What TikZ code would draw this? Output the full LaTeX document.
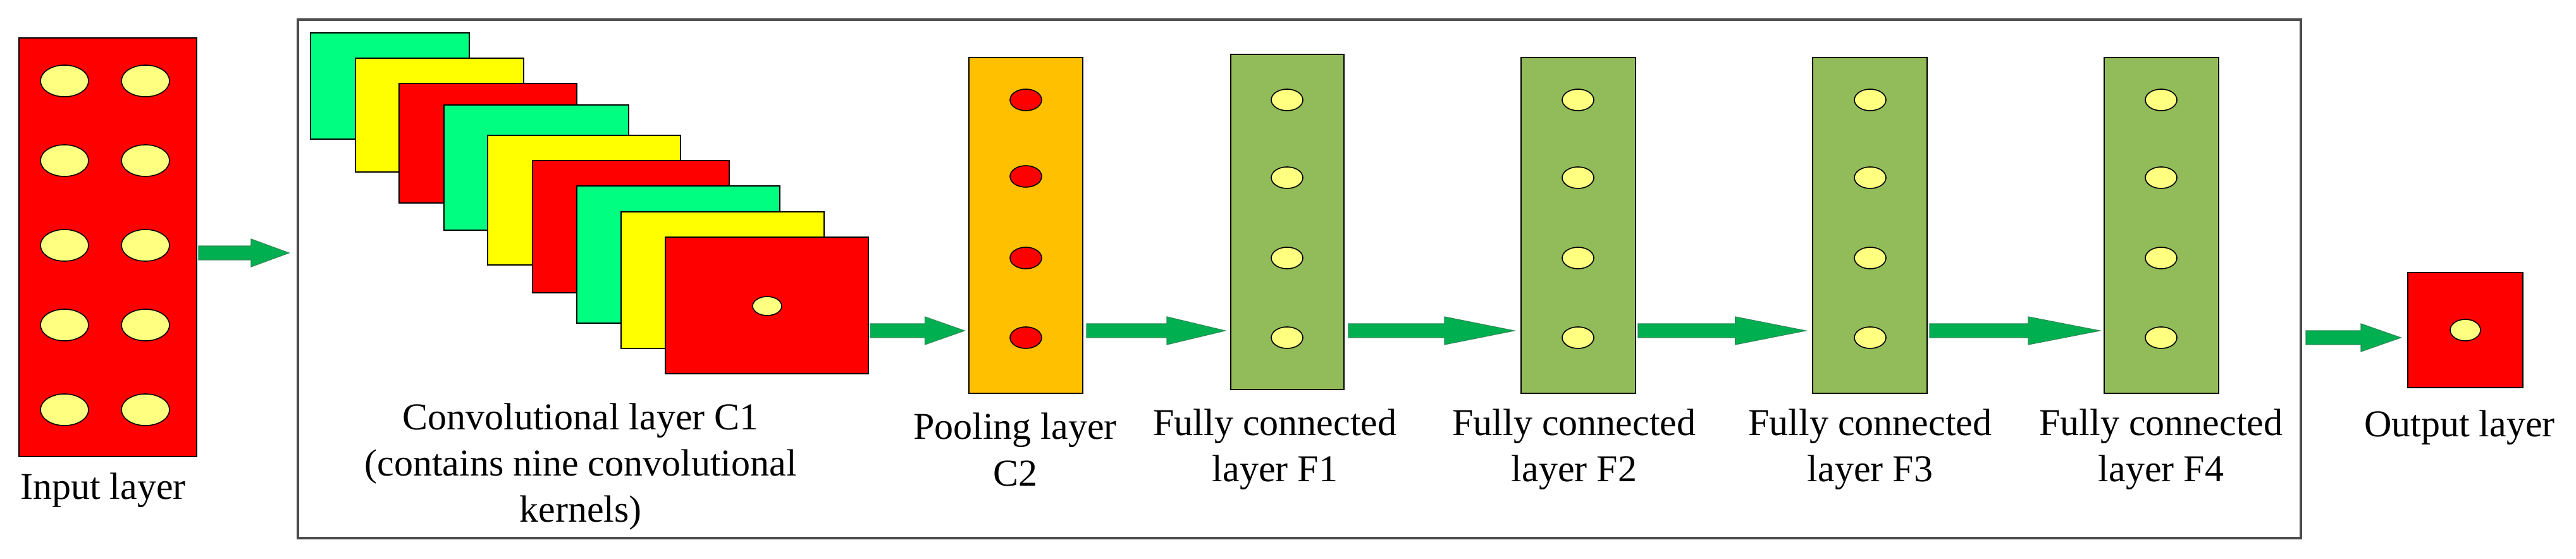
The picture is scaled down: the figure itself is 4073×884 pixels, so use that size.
\documentclass[tikz,border=0pt]{standalone}
\usepackage{fontspec}
\setmainfont{Liberation Serif}
\definecolor{kgreen}{HTML}{00FF80}
\definecolor{kyellow}{HTML}{FFFF00}
\definecolor{kred}{HTML}{FF0000}
\definecolor{porange}{HTML}{FFC000}
\definecolor{fgreen}{HTML}{92BB5A}
\definecolor{dyellow}{HTML}{FFFF80}
\definecolor{agreen}{HTML}{00B050}
\definecolor{aedge}{HTML}{2E8B57}
\tikzset{
 lay/.style={draw=black, line width=0.5pt},
 dot/.style={draw=black, line width=0.4pt},
 lbl/.style={align=center, font=\fontsize{15}{18.3}\selectfont, inner sep=0pt},
}
\newcommand{\bigarrow}[3]{% x1, x2, y
 \fill[agreen, draw=aedge, line width=0.3pt] (#1,#3-11) -- ({#2-(#2-#1)*0.42},#3-11) -- ({#2-(#2-#1)*0.42},#3-22) -- (#2,#3) -- ({#2-(#2-#1)*0.42},#3+22) -- ({#2-(#2-#1)*0.42},#3+11) -- (#1,#3+11) -- cycle;}
\begin{document}
\begin{tikzpicture}[x=0.25pt,y=-0.25pt]
\useasboundingbox (0,0) rectangle (4073,884);
% input
\draw[lay, fill=kred] (30,60) rectangle (311,722);
\foreach \y in {128,254,388,514,648}{
 \foreach \x in {102,230}{\draw[dot, fill=dyellow] (\x,\y) ellipse [x radius=38, y radius=25];}}
\node[lbl] (tin) at (163,775) {Input layer};
\bigarrow{314}{457}{400}
% frame
\draw[black!70, line width=0.8pt] (471,31) rectangle (3638,851);
% kernels
\draw[lay, fill=kgreen] (491,52) rectangle (742,220);
\draw[lay, fill=kyellow] (562,92) rectangle (828,272);
\draw[lay, fill=kred] (631,132) rectangle (912,321);
\draw[lay, fill=kgreen] (702,166) rectangle (994,364);
\draw[lay, fill=kyellow] (771,214) rectangle (1076,419);
\draw[lay, fill=kred] (842,254) rectangle (1153,463);
\draw[lay, fill=kgreen] (912,294) rectangle (1233,511);
\draw[lay, fill=kyellow] (982,335) rectangle (1303,551);
\draw[lay, fill=kred] (1052,375) rectangle (1373,591);
\draw[dot, fill=dyellow] (1213,484) ellipse [x radius=23, y radius=15];
\node[lbl] (tc1) at (918,738) {Convolutional layer C1\\(contains nine convolutional\\kernels)};
\bigarrow{1376}{1525}{523}
% pooling
\draw[lay, fill=porange] (1532,91) rectangle (1712,622);
\foreach \y in {158,279,408,534}{\draw[dot, fill=kred] (1622,\y) ellipse [x radius=25, y radius=17];}
\node[lbl] (tc2) at (1605,711) {Pooling layer\\C2};
\bigarrow{1718}{1937}{523}
% F layers
\draw[lay, fill=fgreen] (1946,86) rectangle (2125,616);
\draw[lay, fill=fgreen] (2405,91) rectangle (2586,622);
\draw[lay, fill=fgreen] (2866,91) rectangle (3047,622);
\draw[lay, fill=fgreen] (3327,91) rectangle (3508,622);
\foreach \x in {2035,2495,2957,3417}{
 \foreach \y in {158,281,408,534}{\draw[dot, fill=dyellow] (\x,\y) ellipse [x radius=25, y radius=17];}}
\node[lbl] (tf1) at (2016,711) {Fully connected\\layer F1};
\node[lbl] (tf2) at (2489,711) {Fully connected\\layer F2};
\node[lbl] (tf3) at (2957,711) {Fully connected\\layer F3};
\node[lbl] (tf4) at (3417,711) {Fully connected\\layer F4};
\bigarrow{2132}{2394}{523}
\bigarrow{2590}{2855}{523}
\bigarrow{3051}{3320}{523}
% output
\bigarrow{3646}{3796}{534}
\draw[lay, fill=kred] (3807,431) rectangle (3989,613);
\draw[dot, fill=dyellow] (3898,522) ellipse [x radius=24, y radius=17];
\node[lbl] (tout) at (3889,676) {Output layer};
\end{tikzpicture}
\end{document}
